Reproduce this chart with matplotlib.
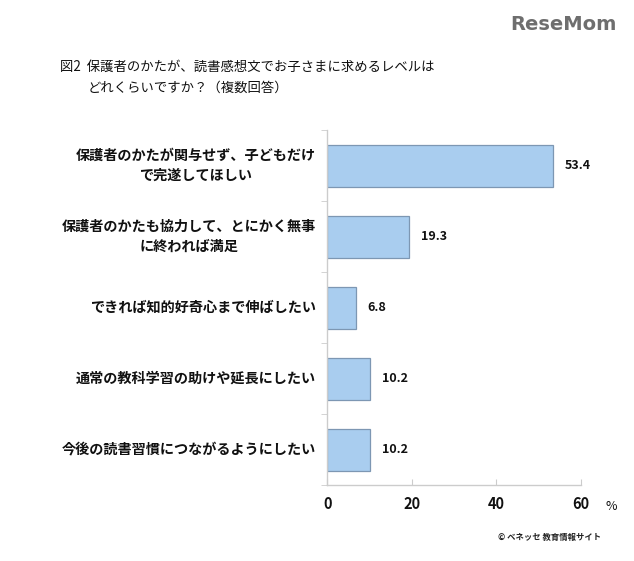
import numpy as np
import matplotlib
matplotlib.use("Agg")
import matplotlib.pyplot as plt

plt.rcParams['font.family'] = ['Noto Sans CJK JP', 'DejaVu Sans']

categories = [
    "保護者のかたが関与せず、子どもだけ\nで完遂してほしい",
    "保護者のかたも協力して、とにかく無事\nに終われば満足",
    "できれば知的好奇心まで伸ばしたい",
    "通常の教科学習の助けや延長にしたい",
    "今後の読書習慣につながるようにしたい",
]
values = [53.4, 19.3, 6.8, 10.2, 10.2]
xticks = [0, 20, 40, 60]

fig = plt.figure(figsize=(6.34, 5.61), dpi=100)
ax = fig.add_axes([0.516, 0.135, 0.400, 0.633])

y = np.arange(len(categories))
ax.barh(y, values, height=0.59, color='#a9cdef', edgecolor='#7d97b3', linewidth=0.9)
for yi, v in zip(y, values):
    ax.text(v + 2.8, yi, f"{v:.1f}", va='center', ha='left', fontsize=9,
            fontweight='bold', color='#111111')

ax.set_ylim(len(categories) - 0.5, -0.5)
ax.set_xlim(0, 60)
ax.set_yticks(y)
ax.set_yticklabels([])
# category labels: right aligned block, lines centred on each other
for yi, c in zip(y, categories):
    ax.annotate(c, xy=(0, yi), xytext=(-8, 0), textcoords='offset points',
                ha='right', va='center', multialignment='center',
                fontsize=10.2, fontweight='bold', color='#111111',
                linespacing=1.5, annotation_clip=False)
ax.set_yticks(np.arange(len(categories) + 1) - 0.5, minor=True)
ax.tick_params(axis='y', which='major', length=0)
ax.tick_params(axis='y', which='minor', length=4, color='#cccccc', direction='out')
ax.set_xticks(xticks)
ax.set_xticklabels([str(t) for t in xticks], fontsize=10.5, fontweight='bold', color='#111111')
ax.tick_params(axis='x', length=4, color='#cccccc', direction='in', pad=8)

for s in ['top', 'right']:
    ax.spines[s].set_visible(False)
for s in ['left', 'bottom']:
    ax.spines[s].set_color('#cccccc')
    ax.spines[s].set_linewidth(1.0)

fig.text(605 / 634, 1 - 507 / 561, "%", fontsize=9, ha='left', va='center', color='#111111')

fig.text(60 / 634, 1 - 67 / 561, "図2  保護者のかたが、読書感想文でお子さまに求めるレベルは",
         fontsize=9.6, ha='left', va='center', color='#111111')
fig.text(88 / 634, 1 - 88 / 561, "どれくらいですか？（複数回答）",
         fontsize=9.6, ha='left', va='center', color='#111111')

fig.text(601 / 634, 1 - 537 / 561, "© ベネッセ 教育情報サイト", fontsize=6,
         fontweight='bold', ha='right', va='center', color='#222222')

fig.text(617 / 634, 1 - 24 / 561, "ReseMom", fontsize=14, fontweight='bold',
         ha='right', va='center', color='#6e6e6e', family=['DejaVu Sans'])

fig.savefig("out.png", dpi=100)
